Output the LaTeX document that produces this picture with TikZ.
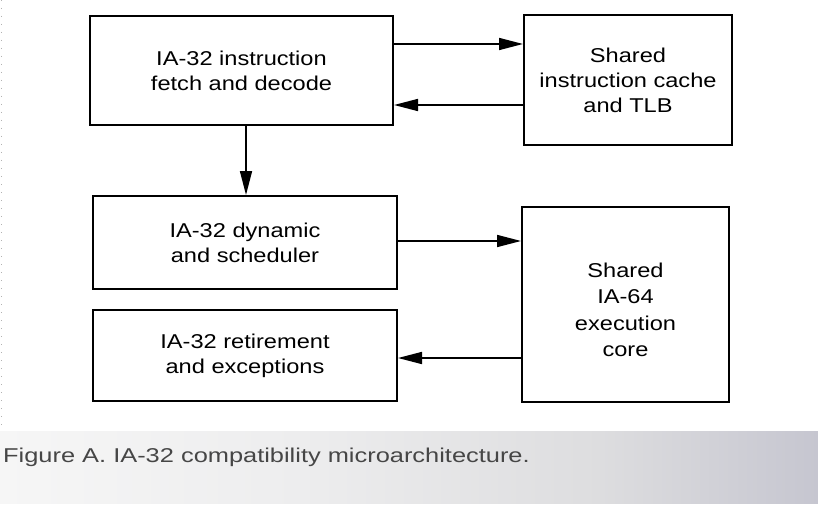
\documentclass[tikz,border=0pt]{standalone}
\usepackage{fontspec}
\setmainfont{Liberation Sans}[FakeStretch=1.18]
\newfontfamily\capfont{Liberation Sans}[FakeStretch=1.27]
\usetikzlibrary{arrows.meta}
\definecolor{capgray}{RGB}{70,70,70}
\definecolor{bandA}{RGB}{246,246,246}
\definecolor{bandB}{RGB}{237,237,238}
\definecolor{bandC}{RGB}{221,221,223}
\definecolor{bandD}{RGB}{198,198,208}
\begin{document}
\begin{tikzpicture}[x=1pt,y=-1pt,
  box/.style={draw=black, line width=2pt, inner sep=0pt, align=center,
              font=\fontsize{20}{25}\selectfont},
  arr/.style={line width=1.6pt, -{Triangle[length=24pt,width=12pt]}}]
\useasboundingbox (0,0) rectangle (818,505);
\fill[white] (0,0) rectangle (818,505);
% caption band
\shade[left color=bandA, right color=bandB] (0,431) rectangle (300.5,503);
\shade[left color=bandB, right color=bandC] (300,431) rectangle (600.5,503);
\shade[left color=bandC, right color=bandD] (600,431) rectangle (818,503);
% left dotted rule
\draw[gray!60, line width=1pt, dash pattern=on 1pt off 7pt] (1,0) -- (1,431);
% boxes
\node[box, minimum width=303pt, minimum height=109pt] (b1) at (241.5,70.5) {IA-32 instruction\\fetch and decode};
\node[box, minimum width=208pt, minimum height=130pt] (b2) at (628,80) {Shared\\instruction cache\\and TLB};
\node[box, minimum width=304pt, minimum height=93pt] (b3) at (245,242.5) {IA-32 dynamic\\and scheduler};
\node[box, minimum width=207pt, minimum height=195pt, font=\fontsize{20}{26.5}\selectfont] (b4) at (625.5,304.5) {\rule{0pt}{25pt}Shared\\IA-64\\execution\\core};
\node[box, minimum width=304pt, minimum height=91pt] (b5) at (245,355.5) {IA-32 retirement\\and exceptions};
% connectors
\draw[arr] (b1.east |- 0,44) -- (b2.west |- 0,44);
\draw[arr] (b2.west |- 0,105) -- (b1.east |- 0,105);
\draw[arr] (b1.south -| 246,0) -- (b3.north -| 246,0);
\draw[arr] (b3.east |- 0,241) -- (b4.west |- 0,241);
\draw[arr] (b4.west |- 0,358) -- (b5.east |- 0,358);
% caption
\node[anchor=base west, inner sep=0pt, text=capgray, font=\capfont\fontsize{20}{24}\selectfont] (cap) at (3,462) {Figure A. IA-32 compatibility microarchitecture.};
\end{tikzpicture}
\end{document}
